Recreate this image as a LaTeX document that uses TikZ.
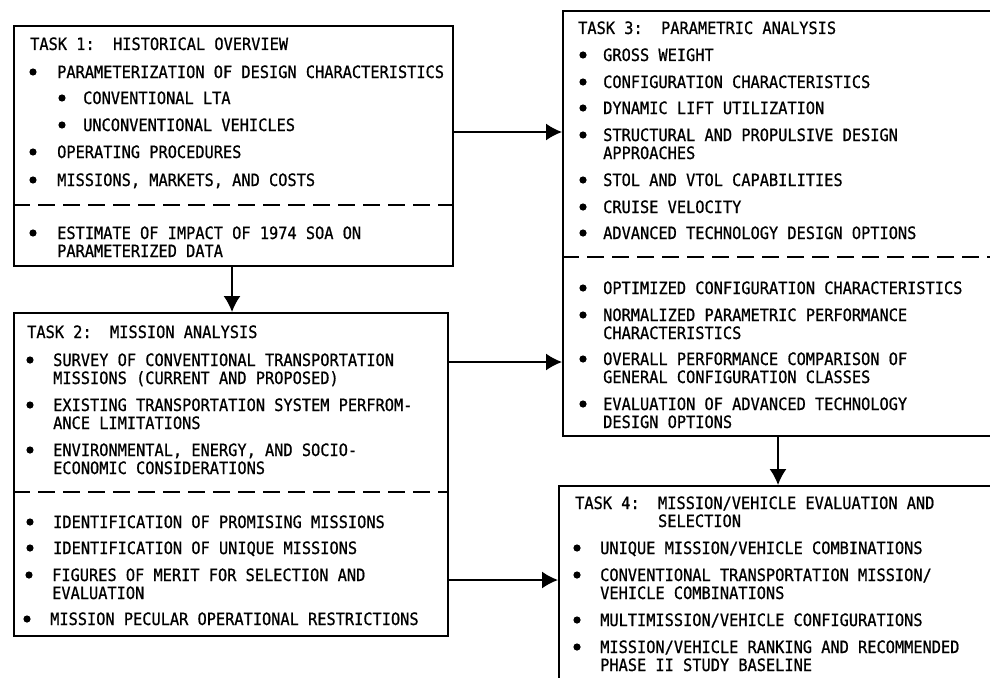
\documentclass[tikz,border=0pt]{standalone}
\usepackage{fontspec}
\newfontfamily\leroy[FakeStretch=0.9, FakeBold=0.8]{DejaVu Sans Mono}
\usetikzlibrary{arrows.meta, positioning}

\begin{document}
\begin{tikzpicture}[x=1pt, y=-1pt]

\tikzset{task/.style = {draw, line width=1.6pt, anchor=north west, inner sep=0pt}}
\tikzset{txt/.style = {anchor=base west, inner sep=0pt, align=left, font=\leroy\fontsize{17}{18}\selectfont}}
\tikzset{edge/.style = {-{Latex[length=16pt,width=17pt]}, line width=1.6pt}}
\tikzset{divider/.style = {line width=1.4pt, dash pattern=on 17pt off 8pt}}

\useasboundingbox (0,0) rectangle (990,677);
\clip (0,0) rectangle (990,677);

% boxes
\node[task, minimum width=439pt, minimum height=240pt] (t1) at (13,25) {};
\node[task, minimum width=434pt, minimum height=323pt] (t2) at (13,312) {};
\node[task, minimum width=440pt, minimum height=425pt] (t3) at (562,10) {};
\node[task, minimum width=440pt, minimum height=220pt] (t4) at (558,485) {};
\draw[divider] (t1.west |- 0,205) -- (t1.east |- 0,205);
\draw[divider] (t2.west |- 0,492) -- (t2.east |- 0,492);
\draw[divider] (t3.west |- 0,257) -- (t3.east |- 0,257);

% task 1 (two-line items are placed by their last baseline)
\node[txt] (t1h) at (30,50) {TASK 1:~~HISTORICAL OVERVIEW};
\node[txt] (t1a) at (57,78) {PARAMETERIZATION OF DESIGN CHARACTERISTICS};
\node[txt] (t1b) at (83,104) {CONVENTIONAL LTA};
\node[txt] (t1c) at (83,131) {UNCONVENTIONAL VEHICLES};
\node[txt] (t1d) at (57,158) {OPERATING PROCEDURES};
\node[txt] (t1e) at (57,186) {MISSIONS, MARKETS, AND COSTS};
\node[txt] (t1f) at (57,257) {ESTIMATE OF IMPACT OF 1974 SOA ON\\PARAMETERIZED DATA};
\foreach \p in {(33,72),(62,98),(62,125),(33,152),(33,180),(33,233)}
  \fill \p circle (3.6pt);

% task 2
\node[txt] (t2h) at (27,338) {TASK 2:~~MISSION ANALYSIS};
\node[txt] (t2a) at (53,384) {SURVEY OF CONVENTIONAL TRANSPORTATION\\MISSIONS (CURRENT AND PROPOSED)};
\node[txt] (t2b) at (53,429) {EXISTING TRANSPORTATION SYSTEM PERFROM-\\ANCE LIMITATIONS};
\node[txt] (t2c) at (53,474) {ENVIRONMENTAL, ENERGY, AND SOCIO-\\ECONOMIC CONSIDERATIONS};
\node[txt] (t2d) at (53,528) {IDENTIFICATION OF PROMISING MISSIONS};
\node[txt] (t2e) at (53,554) {IDENTIFICATION OF UNIQUE MISSIONS};
\node[txt] (t2f) at (52,599) {FIGURES OF MERIT FOR SELECTION AND\\EVALUATION};
\node[txt] (t2g) at (50,625) {MISSION PECULAR OPERATIONAL RESTRICTIONS};
\foreach \p in {(30,360),(30,405),(30,450),(30,522),(30,548),(29,575),(27,619)}
  \fill \p circle (3.6pt);

% task 3
\node[txt] (t3h) at (578,34) {TASK 3:~~PARAMETRIC ANALYSIS};
\node[txt] (t3a) at (603,61) {GROSS WEIGHT};
\node[txt] (t3b) at (603,88) {CONFIGURATION CHARACTERISTICS};
\node[txt] (t3c) at (603,114) {DYNAMIC LIFT UTILIZATION};
\node[txt] (t3d) at (603,159) {STRUCTURAL AND PROPULSIVE DESIGN\\APPROACHES};
\node[txt] (t3e) at (603,186) {STOL AND VTOL CAPABILITIES};
\node[txt] (t3f) at (603,213) {CRUISE VELOCITY};
\node[txt] (t3g) at (603,239) {ADVANCED TECHNOLOGY DESIGN OPTIONS};
\node[txt] (t3i) at (603,294) {OPTIMIZED CONFIGURATION CHARACTERISTICS};
\node[txt] (t3j) at (603,339) {NORMALIZED PARAMETRIC PERFORMANCE\\CHARACTERISTICS};
\node[txt] (t3k) at (603,383) {OVERALL PERFORMANCE COMPARISON OF\\GENERAL CONFIGURATION CLASSES};
\node[txt] (t3l) at (603,428) {EVALUATION OF ADVANCED TECHNOLOGY\\DESIGN OPTIONS};
\foreach \y in {55,82,108,135,180,207,233,288,315,359,404}
  \fill (583,\y) circle (3.6pt);

% task 4
\node[txt] (t4h) at (575,527) {TASK 4:~~MISSION/VEHICLE EVALUATION AND\\\phantom{TASK 4:~~}SELECTION};
\node[txt] (t4a) at (600,554) {UNIQUE MISSION/VEHICLE COMBINATIONS};
\node[txt] (t4b) at (600,599) {CONVENTIONAL TRANSPORTATION MISSION/\\VEHICLE COMBINATIONS};
\node[txt] (t4c) at (600,626) {MULTIMISSION/VEHICLE CONFIGURATIONS};
\node[txt] (t4d) at (600,671) {MISSION/VEHICLE RANKING AND RECOMMENDED\\PHASE II STUDY BASELINE};
\foreach \y in {548,575,620,647}
  \fill (577,\y) circle (3.6pt);

%edges
\draw[edge] (t1.east |- 0,132) -- (t3.west |- 0,132);
\draw[edge] (t1.south -| 232,0) -- (t2.north -| 232,0);
\draw[edge] (t2.east |- 0,362) -- (t3.west |- 0,362);
\draw[edge] (t2.east |- 0,580) -- (t4.west |- 0,580);
\draw[edge] (t3.south -| 778,0) -- (t4.north -| 778,0);
\end{tikzpicture}
\end{document}
